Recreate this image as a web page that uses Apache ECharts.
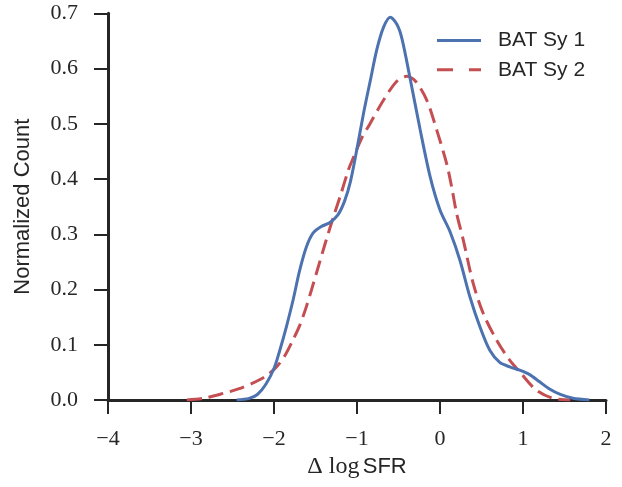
<!DOCTYPE html>
<html>
<head>
<meta charset="utf-8">
<script src="https://cdn.jsdelivr.net/npm/echarts@6/dist/echarts.min.js"></script>
<style>
html,body{margin:0;padding:0;background:#fff;}
#chart{width:622px;height:487px;}
</style>
</head>
<body>
<div id="chart"></div>
<script>
// Series names
var seriesNames = ['BAT Sy 1', 'BAT Sy 2'];
// KDE curve for BAT Sy 1: [delta log SFR, normalized count]
var sy1 = [[-2.45,0],[-2.3,0.003],[-2.2,0.01],[-2.1,0.028],[-2.0,0.057],[-1.93,0.09],[-1.85,0.133],[-1.77,0.181],[-1.69,0.235],[-1.61,0.277],[-1.53,0.302],[-1.43,0.314],[-1.33,0.321],[-1.23,0.335],[-1.15,0.36],[-1.08,0.395],[-1.0,0.455],[-0.92,0.52],[-0.84,0.578],[-0.76,0.635],[-0.68,0.675],[-0.6,0.693],[-0.52,0.68],[-0.46,0.655],[-0.36,0.582],[-0.24,0.49],[-0.12,0.405],[0,0.344],[0.12,0.305],[0.24,0.253],[0.36,0.187],[0.48,0.133],[0.6,0.09],[0.72,0.068],[0.84,0.06],[0.96,0.054],[1.08,0.046],[1.2,0.033],[1.32,0.02],[1.45,0.01],[1.6,0.003],[1.8,0]];
// KDE curve for BAT Sy 2
var sy2 = [[-3.05,0],[-2.85,0.003],[-2.61,0.012],[-2.43,0.02],[-2.25,0.031],[-2.1,0.043],[-1.97,0.06],[-1.87,0.08],[-1.77,0.109],[-1.69,0.135],[-1.61,0.169],[-1.49,0.229],[-1.37,0.29],[-1.27,0.338],[-1.2,0.37],[-1.1,0.418],[-1.04,0.44],[-0.94,0.475],[-0.84,0.501],[-0.68,0.543],[-0.52,0.577],[-0.4,0.586],[-0.3,0.578],[-0.16,0.543],[-0.04,0.489],[0.08,0.428],[0.14,0.386],[0.2,0.338],[0.28,0.29],[0.4,0.211],[0.52,0.157],[0.68,0.109],[0.84,0.072],[0.96,0.051],[1.16,0.018],[1.36,0.003],[1.57,0]];
// Axis ranges / ticks
var xMin = -4, xMax = 2, xStep = 1;
var yMin = 0, yMax = 0.7, yStep = 0.1;
var xTitle = '{d|\u0394 log} {s|SFR}';
var yTitle = 'Normalized Count';

var ink = '#262626';
var blue = '#4C72B0', red = '#C44E52';
var chart = echarts.init(document.getElementById('chart'), null, {renderer: 'canvas'});
chart.setOption({
  animation: false,
  backgroundColor: '#ffffff',
  grid: {left: 108, right: 16, top: 13.3, bottom: 87, containLabel: false},
  legend: {
    left: 437, top: 30, orient: 'vertical', padding: 0,
    itemWidth: 44, itemHeight: 3, itemGap: 8.3,
    textStyle: {fontFamily: 'Liberation Sans', fontSize: 21, color: ink, lineHeight: 21, padding: [0,0,0,12]},
    data: [
      {name: seriesNames[0], icon: 'rect', itemStyle: {color: blue, opacity: 1, borderWidth: 0}},
      {name: seriesNames[1], icon: 'path://M0,0H16V3H0Z M32,0H44V3H32Z', itemStyle: {color: red, opacity: 1, borderWidth: 0}}
    ]
  },
  xAxis: {
    type: 'value', min: xMin, max: xMax, interval: xStep,
    name: xTitle, nameLocation: 'middle', nameGap: 54,
    nameTextStyle: {
      color: ink,
      rich: {
        d: {fontFamily: 'Liberation Serif', fontSize: 24, color: ink},
        s: {fontFamily: 'Liberation Sans', fontSize: 22, color: ink}
      }
    },
    axisLine: {show: true, onZero: false, lineStyle: {color: ink, width: 3}},
    axisTick: {show: true, length: 14, lineStyle: {color: ink, width: 2}},
    axisLabel: {
      margin: 28, color: ink, fontFamily: 'Liberation Serif', fontSize: 22,
      formatter: function (v) { return v < 0 ? '\u2212' + Math.abs(v) : String(v); }
    },
    splitLine: {show: false}
  },
  yAxis: {
    type: 'value', min: yMin, max: yMax, interval: yStep,
    name: yTitle, nameLocation: 'middle', nameGap: 74,
    nameTextStyle: {fontFamily: 'Liberation Sans', fontSize: 22, color: ink},
    axisLine: {show: true, onZero: false, lineStyle: {color: ink, width: 3}},
    axisTick: {show: true, length: 14, lineStyle: {color: ink, width: 2}},
    axisLabel: {
      margin: 30, color: ink, fontFamily: 'Liberation Serif', fontSize: 22,
      formatter: function (v) { return v.toFixed(1); }
    },
    splitLine: {show: false}
  },
  series: [
    {
      name: seriesNames[0], type: 'line', data: sy1, smooth: 0.3, symbol: 'none',
      lineStyle: {color: blue, width: 3}, itemStyle: {color: blue}, z: 3
    },
    {
      name: seriesNames[1], type: 'line', data: sy2, smooth: 0.3, symbol: 'none',
      lineStyle: {color: red, width: 3, type: [15, 7]}, itemStyle: {color: red}, z: 2
    }
  ]
});
</script>
</body>
</html>
